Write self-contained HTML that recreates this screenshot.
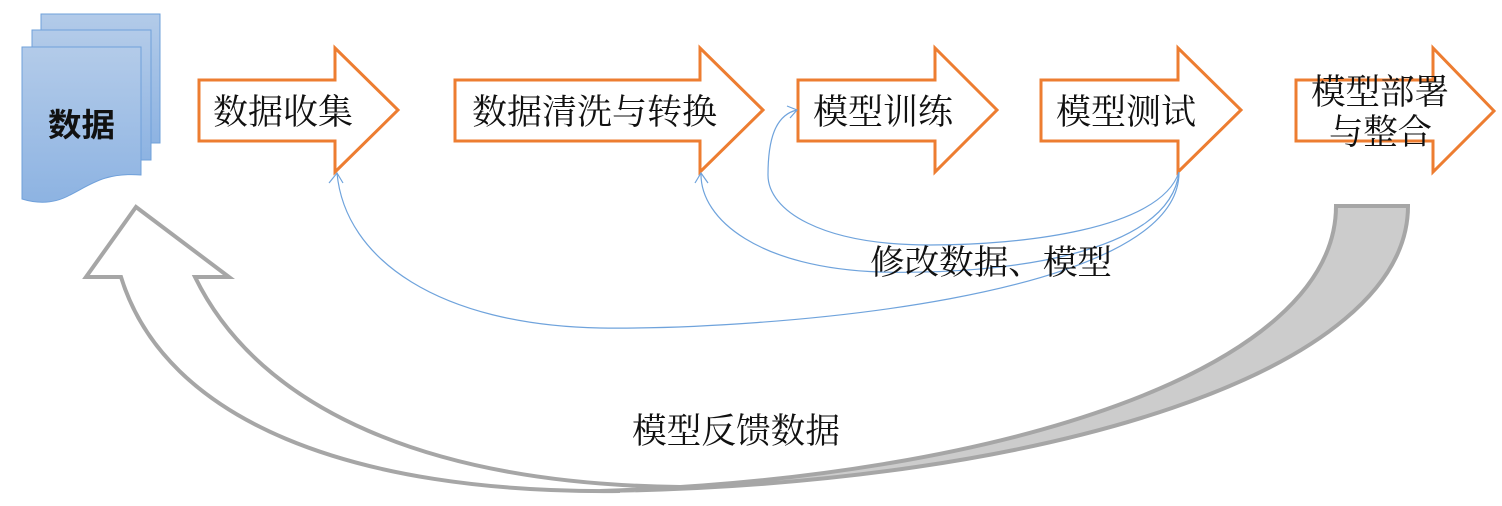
<!DOCTYPE html>
<html><head><meta charset="utf-8"><style>
html,body{margin:0;padding:0;background:#fff;}
svg{display:block;}
text{font-family:"Liberation Serif","Noto Serif CJK SC","Noto Sans CJK SC",serif;fill:#111;}
</style></head><body>
<svg width="1502" height="506" viewBox="0 0 1502 506" xmlns="http://www.w3.org/2000/svg">
<defs>
<linearGradient id="g" x1="0" y1="0" x2="0" y2="1">
<stop offset="0" stop-color="#b3cbe9"/><stop offset="1" stop-color="#8db3e2"/>
</linearGradient>
</defs>
<!-- documents -->
<rect x="41" y="14" width="119" height="129" fill="url(#g)" stroke="#6fa0da" stroke-width="1"/>
<rect x="32" y="30" width="119" height="130" fill="url(#g)" stroke="#6fa0da" stroke-width="1"/>
<path d="M22,47 H141 V175 C105,172 90,185 70,195 C52,205 35,203 22,199 Z" fill="url(#g)" stroke="#6fa0da" stroke-width="1"/>
<text x="48" y="136" font-size="32" font-weight="bold" textLength="67" lengthAdjust="spacingAndGlyphs" style="font-family:'Noto Sans CJK SC',sans-serif">数据</text>

<!-- orange arrows -->
<g fill="#fff" stroke="#ed7d31" stroke-width="3" stroke-linejoin="miter">
<path d="M199,80 H335 V48 L398,110 L335,172 V141 H199 Z"/>
<path d="M455,80 H700 V48 L763,110 L700,172 V141 H455 Z"/>
<path d="M798,80 H935 V48 L997,110 L935,172 V141 H798 Z"/>
<path d="M1041,80 H1178 V48 L1241,110 L1178,172 V141 H1041 Z"/>
<path d="M1296,80 H1433 V48 L1494,111 L1433,172 V141 H1296 Z"/>
</g>
<g font-size="35">
<text x="213" y="124" textLength="140" lengthAdjust="spacingAndGlyphs">数据收集</text>
<text x="472" y="124" textLength="245" lengthAdjust="spacingAndGlyphs">数据清洗与转换</text>
<text x="813" y="124" textLength="140" lengthAdjust="spacingAndGlyphs">模型训练</text>
<text x="1056" y="124" textLength="140" lengthAdjust="spacingAndGlyphs">模型测试</text>
<text x="1311" y="104" textLength="138" lengthAdjust="spacingAndGlyphs">模型部署</text>
<text x="1329" y="144" textLength="103" lengthAdjust="spacingAndGlyphs">与整合</text>
</g>

<!-- blue curves -->
<g fill="none" stroke="#6fa3dc" stroke-width="1.2">
<path d="M1179,172 C1180,300 760,330 600,328 C440,325 345,260 337,173"/>
<path d="M1179,172 C1170,255 1000,275 880,272 C760,268 700,220 701,173"/>
<path d="M1179,172 C1160,230 1020,245 930,245 C820,245 768,210 768,175 C768,140 775,115 797,110"/>
<path d="M329,183 L337,173 L343,183"/>
<path d="M695,183 L701,173 L708,183"/>
<path d="M787,106 L797,110 L790,118"/>
</g>
<text x="870" y="274" font-size="34" textLength="242" lengthAdjust="spacingAndGlyphs">修改数据、模型</text>

<!-- big gray return arrow -->
<path d="M1336,206 L1408,206 C1408,370 1050,485 600,491 C1000,478 1336,370 1336,206 Z" fill="#cccccc" stroke="#a6a6a6" stroke-width="4" stroke-linejoin="miter"/>
<path d="M620,491 C350,494 165,420 121,277 L86,277 L136,207 L229,277 L195,277 C260,410 430,484 680,487" fill="none" stroke="#a6a6a6" stroke-width="4" stroke-linejoin="miter"/>
<text x="632" y="443" font-size="35" textLength="208" lengthAdjust="spacingAndGlyphs">模型反馈数据</text>
</svg>
</body></html>
